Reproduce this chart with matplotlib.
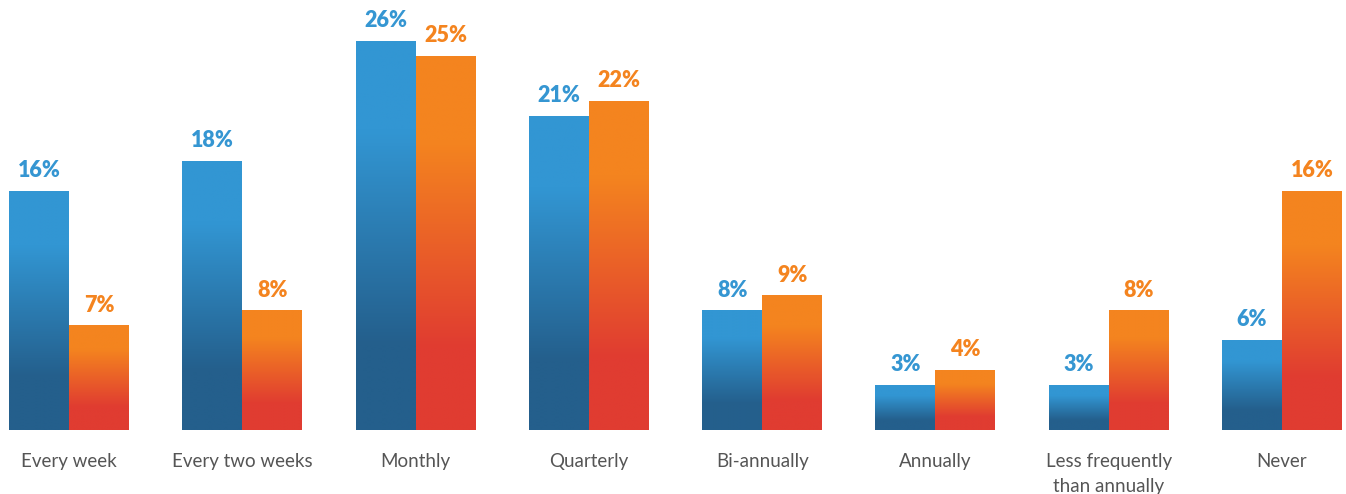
import numpy as np
import matplotlib
matplotlib.use('Agg')
import matplotlib.pyplot as plt
from matplotlib.colors import to_rgb

categories = ['Every week', 'Every two weeks', 'Monthly', 'Quarterly', 'Bi-annually',
              'Annually', 'Less frequently\nthan annually', 'Never']
blue_values = [16, 18, 26, 21, 8, 3, 3, 6]
orange_values = [7, 8, 25, 22, 9, 4, 8, 16]

blue_top, blue_bottom = '#3296d3', '#245f8c'
orange_top, orange_bottom = '#f4841f', '#e03c31'
blue_text, orange_text = '#3596d2', '#f4841f'

plt.rcParams['font.family'] = ['Lato', 'DejaVu Sans']

fig = plt.figure(figsize=(13.46, 4.94), dpi=100)
ax = fig.add_axes([0, 0, 1, 1])
ax.set_xlim(-0.398, 7.369)
ax.set_ylim(-4.28, 28.74)
ax.axis('off')

width = 0.346
x = np.arange(len(categories))


def gradient_img(top, bottom, n=200):
    # flat at the top, blend through the middle, flat at the bottom
    t = np.linspace(0, 1, n)
    f = np.clip((t - 0.23) / (0.78 - 0.23), 0, 1)
    c0, c1 = np.array(to_rgb(top)), np.array(to_rgb(bottom))
    cols = c0[None, :] * (1 - f[:, None]) + c1[None, :] * f[:, None]
    return cols[:, None, :]


def grad_bars(xs, vals, top, bottom, txt_color):
    bars = ax.bar(xs, vals, width, color='none', edgecolor='none')
    img = gradient_img(top, bottom)
    for b, v in zip(bars, vals):
        x0, w, h = b.get_x(), b.get_width(), b.get_height()
        im = ax.imshow(img, extent=(x0, x0 + w, 0, h), aspect='auto',
                       origin='upper', interpolation='bilinear', zorder=2)
        im.set_clip_path(b)
        ax.annotate(f'{v}%', (x0 + w / 2, h), xytext=(0, 7), textcoords='offset points',
                    ha='center', va='bottom', fontsize=15.5, fontweight='heavy',
                    color=txt_color)


grad_bars(x - width / 2, blue_values, blue_top, blue_bottom, blue_text)
grad_bars(x + width / 2, orange_values, orange_top, orange_bottom, orange_text)

for xi, cat in zip(x, categories):
    ax.annotate(cat, (xi, 0), xytext=(0, -16.5), textcoords='offset points',
                ha='center', va='top', fontsize=13.5, color='#555555',
                linespacing=1.55)

fig.savefig('out.png', dpi=100)
